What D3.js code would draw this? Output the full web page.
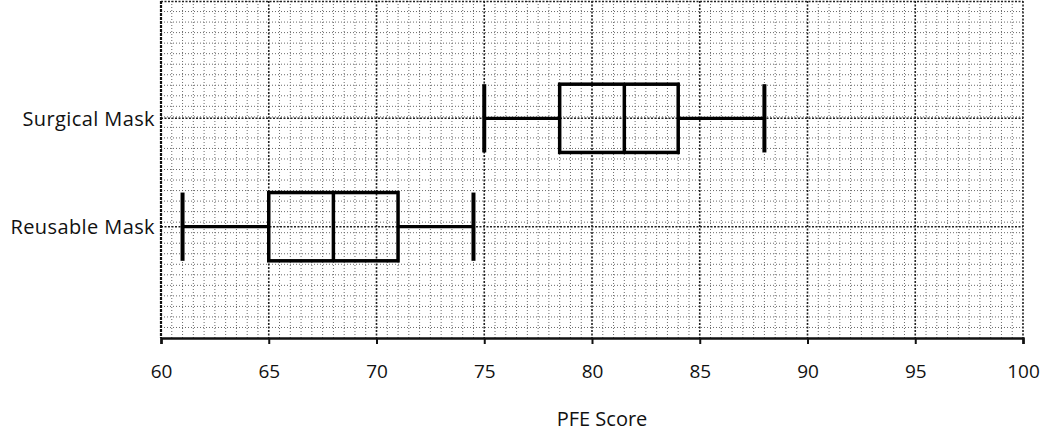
<!DOCTYPE html>
<html>
<head>
<meta charset="utf-8">
<script src="https://cdn.jsdelivr.net/npm/d3@7"></script>
<style>
  body { margin: 0; background: #fff; }
  text { font-family: "Open Sans", sans-serif; fill: #111; }
</style>
</head>
<body>
<div id="chart"></div>
<script>
// données
const categories = ["Surgical Mask", "Reusable Mask"];
const whiskerLow = [75, 61];
const boxLow = [78.5, 65];
const medians = [81.5, 68];
const boxHigh = [84, 71];
const whiskerHigh = [88, 74.5];
const xTicks = [60, 65, 70, 75, 80, 85, 90, 95, 100];

const W = 1046, H = 432;
const margin = { top: 1, right: 23, bottom: 94, left: 161 };
const width = W - margin.left - margin.right;
const height = H - margin.top - margin.bottom;

const svg = d3.select("#chart").append("svg")
    .attr("width", W).attr("height", H);
const g = svg.append("g").attr("transform", `translate(${margin.left},${margin.top})`);

const x = d3.scaleLinear().domain([60, 100]).range([0, width]);
const y = d3.scalePoint().domain(categories).range([3, height + 3]).padding(1.055);
const box = y.step() * 0.63;

// grille secondaire
const nRows = 32;
g.append("g").selectAll("line")
    .data(d3.range(1, nRows))
    .enter().append("line")
    .attr("x1", 0).attr("x2", width)
    .attr("y1", d => d * height / nRows).attr("y2", d => d * height / nRows)
    .attr("stroke", "#6a6a6a").attr("stroke-width", 1).attr("stroke-dasharray", "1,2");

g.append("g").selectAll("line")
    .data(d3.range(60.5, 100, 0.5).filter(v => v % 5 !== 0))
    .enter().append("line")
    .attr("x1", d => x(d)).attr("x2", d => x(d))
    .attr("y1", 0).attr("y2", height)
    .attr("stroke", "#6a6a6a").attr("stroke-width", 1).attr("stroke-dasharray", "1,2");

// grille principale
g.append("g").selectAll("line")
    .data(xTicks.slice(1))
    .enter().append("line")
    .attr("x1", d => x(d)).attr("x2", d => x(d))
    .attr("y1", 0).attr("y2", height)
    .attr("stroke", "#222").attr("stroke-width", 1.6).attr("stroke-dasharray", "2,1.5");

g.append("g").selectAll("line")
    .data(categories)
    .enter().append("line")
    .attr("x1", 0).attr("x2", width)
    .attr("y1", d => y(d)).attr("y2", d => y(d))
    .attr("stroke", "#222").attr("stroke-width", 1.4).attr("stroke-dasharray", "2,1.5");

// bord haut
g.append("line").attr("x1", 0).attr("x2", width).attr("y1", 0.5).attr("y2", 0.5)
    .attr("stroke", "#222").attr("stroke-width", 1.6).attr("stroke-dasharray", "2,1.5");

// axe gauche
g.append("line").attr("x1", 0).attr("x2", 0).attr("y1", 0).attr("y2", height)
    .attr("stroke", "#111").attr("stroke-width", 2.2).attr("stroke-dasharray", "3,1");

// axe X
const xAxis = g.append("g")
    .attr("transform", `translate(0,${height})`)
    .call(d3.axisBottom(x).tickValues(xTicks).tickSize(6).tickPadding(21).tickFormat(d3.format("d")));
xAxis.select(".domain").attr("stroke", "#111").attr("stroke-width", 2.5);
xAxis.selectAll(".tick line").attr("stroke", "#111").attr("stroke-width", 2);
xAxis.selectAll(".tick text").style("font-size", "19px").style("font-family", "'Open Sans', sans-serif").attr("fill", "#111");

// libellés catégories
g.append("g").selectAll("text")
    .data(categories)
    .enter().append("text")
    .attr("x", -6).attr("y", d => y(d))
    .attr("dy", "0.36em")
    .attr("text-anchor", "end")
    .style("font-size", "20px")
    .style("letter-spacing", "0.4px")
    .text(d => d);

svg.append("text")
    .attr("x", 602).attr("y", 426)
    .attr("text-anchor", "middle")
    .style("font-size", "20px")
    .text("PFE Score");

// boîtes
const rows = categories.map((c, i) => ({
    cat: c, wl: whiskerLow[i], q1: boxLow[i], med: medians[i], q3: boxHigh[i], wh: whiskerHigh[i]
}));

const bx = g.append("g").selectAll("g").data(rows).enter().append("g");

bx.append("line")
    .attr("x1", d => x(d.wl)).attr("x2", d => x(d.q1))
    .attr("y1", d => y(d.cat)).attr("y2", d => y(d.cat))
    .attr("stroke", "#000").attr("stroke-width", 3.2);
bx.append("line")
    .attr("x1", d => x(d.q3)).attr("x2", d => x(d.wh))
    .attr("y1", d => y(d.cat)).attr("y2", d => y(d.cat))
    .attr("stroke", "#000").attr("stroke-width", 3.2);

bx.selectAll(".cap")
    .data(d => [d.wl, d.wh].map(v => ({ v, cat: d.cat })))
    .enter().append("line")
    .attr("class", "cap")
    .attr("x1", d => x(d.v)).attr("x2", d => x(d.v))
    .attr("y1", d => y(d.cat) - box / 2).attr("y2", d => y(d.cat) + box / 2)
    .attr("stroke", "#000").attr("stroke-width", 4);

bx.append("rect")
    .attr("x", d => x(d.q1)).attr("width", d => x(d.q3) - x(d.q1))
    .attr("y", d => y(d.cat) - box / 2).attr("height", box)
    .attr("fill", "none").attr("stroke", "#000").attr("stroke-width", 3.5);

bx.append("line")
    .attr("x1", d => x(d.med)).attr("x2", d => x(d.med))
    .attr("y1", d => y(d.cat) - box / 2).attr("y2", d => y(d.cat) + box / 2)
    .attr("stroke", "#000").attr("stroke-width", 3.5);
</script>
</body>
</html>
